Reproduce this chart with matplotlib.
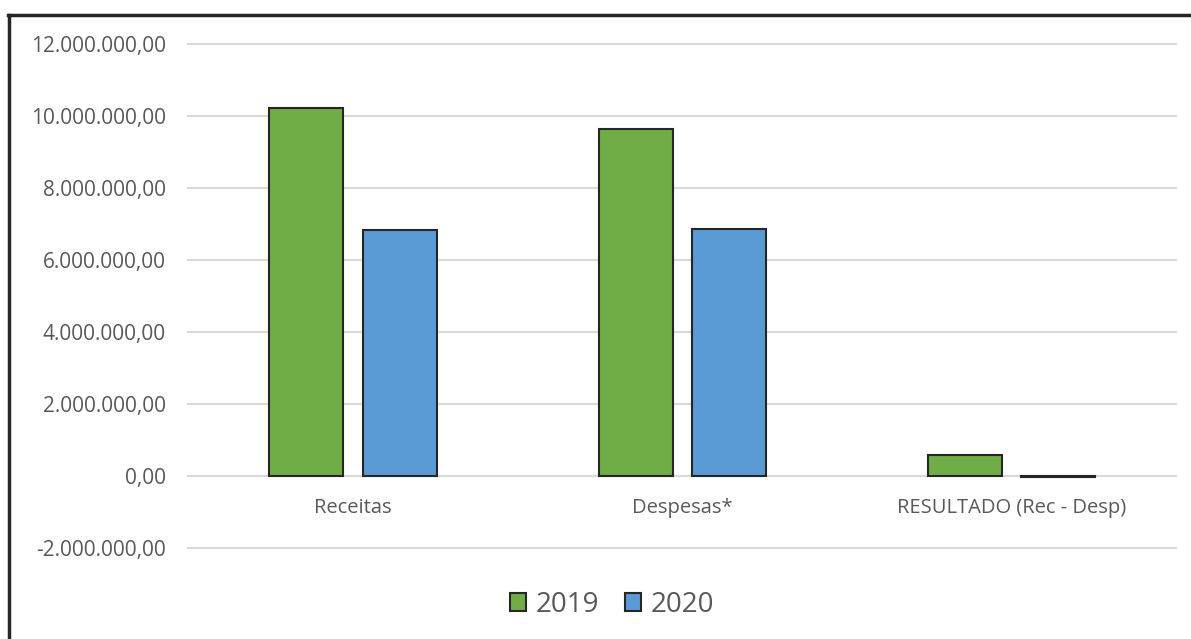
import matplotlib.pyplot as plt
import numpy as np
from matplotlib.ticker import FuncFormatter

plt.rcParams['font.family'] = ['Open Sans', 'DejaVu Sans']

categorias = ['Receitas', 'Despesas*', 'RESULTADO (Rec - Desp)']
anos = ['2019', '2020']
valores_2019 = [10230000, 9630000, 580000]
valores_2020 = [6840000, 6860000, -30000]
yticks = [-2000000, 0, 2000000, 4000000, 6000000, 8000000, 10000000, 12000000]

cor_2019 = '#70AD47'
cor_2020 = '#5B9BD5'
cinza = '#595959'

def fmt_br(v, pos=None):
    s = '{:,.2f}'.format(v)
    return s.replace(',', 'X').replace('.', ',').replace('X', '.')

fig = plt.figure(figsize=(11.91, 6.39), dpi=100)
ax = fig.add_axes([188 / 1191, (639 - 548) / 639, (1176 - 188) / 1191, (548 - 44) / 639])

x = np.arange(len(categorias))
w = 0.225
ax.bar(x - 0.141, valores_2019, w, color=cor_2019, edgecolor='#262626', linewidth=1.5, label=anos[0], zorder=3)
ax.bar(x + 0.143, valores_2020, w, color=cor_2020, edgecolor='#262626', linewidth=1.5, label=anos[1], zorder=3)

ax.set_xlim(-0.5, 2.5)
ax.set_ylim(-2000000, 12000000)
ax.set_yticks(yticks)
ax.yaxis.set_major_formatter(FuncFormatter(fmt_br))
ax.grid(axis='y', color='#d9d9d9', linewidth=1.5, zorder=0)
for gl in ax.get_ygridlines():
    gl.set_clip_on(False)
ax.set_xticks([])
for s in ax.spines.values():
    s.set_visible(False)
ax.tick_params(axis='y', length=0, pad=16, labelsize=15, labelcolor=cinza)

for i, c in enumerate(categorias):
    ax.text(x[i], -890000, c, ha='center', va='center', fontsize=14.5, color=cinza)

leg = fig.legend(loc='center', bbox_to_anchor=(612 / 1191, (639 - 605) / 639), ncol=2,
                 frameon=False, fontsize=20, handlelength=0.6, handleheight=0.6,
                 handletextpad=0.35, columnspacing=0.9)
for t in leg.get_texts():
    t.set_color(cinza)

# moldura do gráfico (só esquerda e topo aparecem)
fig.add_artist(plt.Line2D([9 / 1191, 9 / 1191], [0, (639 - 15) / 639], color='#262626', linewidth=2.5))
fig.add_artist(plt.Line2D([8 / 1191, 1], [(639 - 15) / 639, (639 - 15) / 639], color='#262626', linewidth=2.5))

fig.savefig('out.png', dpi=100)
